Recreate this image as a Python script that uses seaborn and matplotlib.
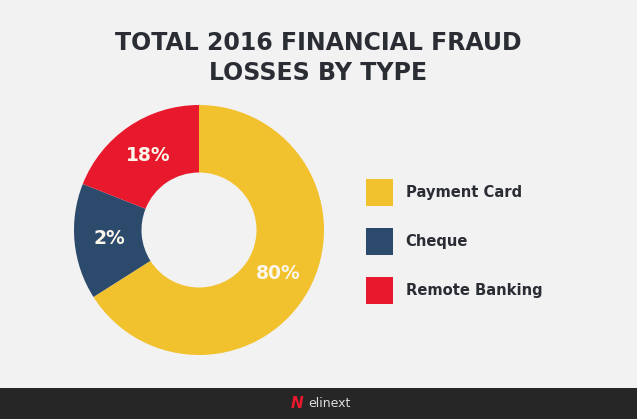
import matplotlib
matplotlib.use("Agg")
import matplotlib.pyplot as plt
import seaborn as sns
import numpy as np
from matplotlib.patches import Patch, Rectangle

# values as labelled, and arc sizes as drawn in the original graphic
categories = ["Payment Card", "Cheque", "Remote Banking"]
pct_labels = ["80%", "2%", "18%"]
arc_sizes = [66, 15, 19]
colors = ["#F2C12E", "#2C4A6B", "#E8192C"]

title_lines = ["TOTAL 2016 FINANCIAL FRAUD", "LOSSES BY TYPE"]
brand = "elinext"

sns.set_theme(style="white")
plt.rcParams["font.family"] = ["DejaVu Sans"]

BG = "#F2F2F2"
DARK = "#2B2D35"
W, H = 637, 419

fig = plt.figure(figsize=(W / 100, H / 100), dpi=100, facecolor=BG)

# donut
cx, cy, r = 199, 230, 125
ax = fig.add_axes([(cx - r) / W, (H - cy - r) / H, 2 * r / W, 2 * r / H])
ax.set_facecolor(BG)
wedges, _ = ax.pie(
    arc_sizes,
    colors=colors,
    startangle=90,
    counterclock=False,
    radius=1,
    wedgeprops=dict(width=0.54, linewidth=0),
)
ax.set_xlim(-1, 1)
ax.set_ylim(-1, 1)
ax.set_aspect("equal")
ax.axis("off")

for w, lab in zip(wedges, pct_labels):
    mid = np.deg2rad((w.theta1 + w.theta2) / 2)
    ax.text(0.72 * np.cos(mid), 0.72 * np.sin(mid), lab, ha="center", va="center",
            color="#FBF6EA", fontsize=13.5, fontweight="bold")

# title
fig.text(318 / W, 1 - 43 / H, title_lines[0], ha="center", va="center",
         fontsize=17, fontweight="bold", color=DARK)
fig.text(318 / W, 1 - 73 / H, title_lines[1], ha="center", va="center",
         fontsize=17, fontweight="bold", color=DARK)

# legend
handles = [Patch(facecolor=c, edgecolor="none") for c in colors]
fig.legend(handles, categories, loc="upper left",
           bbox_to_anchor=(366 / W, 1 - 179 / H), frameon=False,
           borderpad=0, borderaxespad=0, handlelength=1.8, handleheight=2.44,
           handletextpad=0.9, labelspacing=1.51,
           prop=dict(size=10.6, weight="bold"), labelcolor=DARK)

# footer bar
fig.patches.append(Rectangle((0, 0), 1, 31 / H, transform=fig.transFigure,
                             facecolor="#262626", edgecolor="none", zorder=0))
fig.text(297 / W, 16 / H, "N", ha="center", va="center", color="#E8192C",
         fontsize=11, fontweight="bold", style="italic")
fig.text(329 / W, 16 / H, brand, ha="center", va="center", color="#DDDDDD",
         fontsize=9)

fig.savefig("out.png", dpi=100, facecolor=BG)
